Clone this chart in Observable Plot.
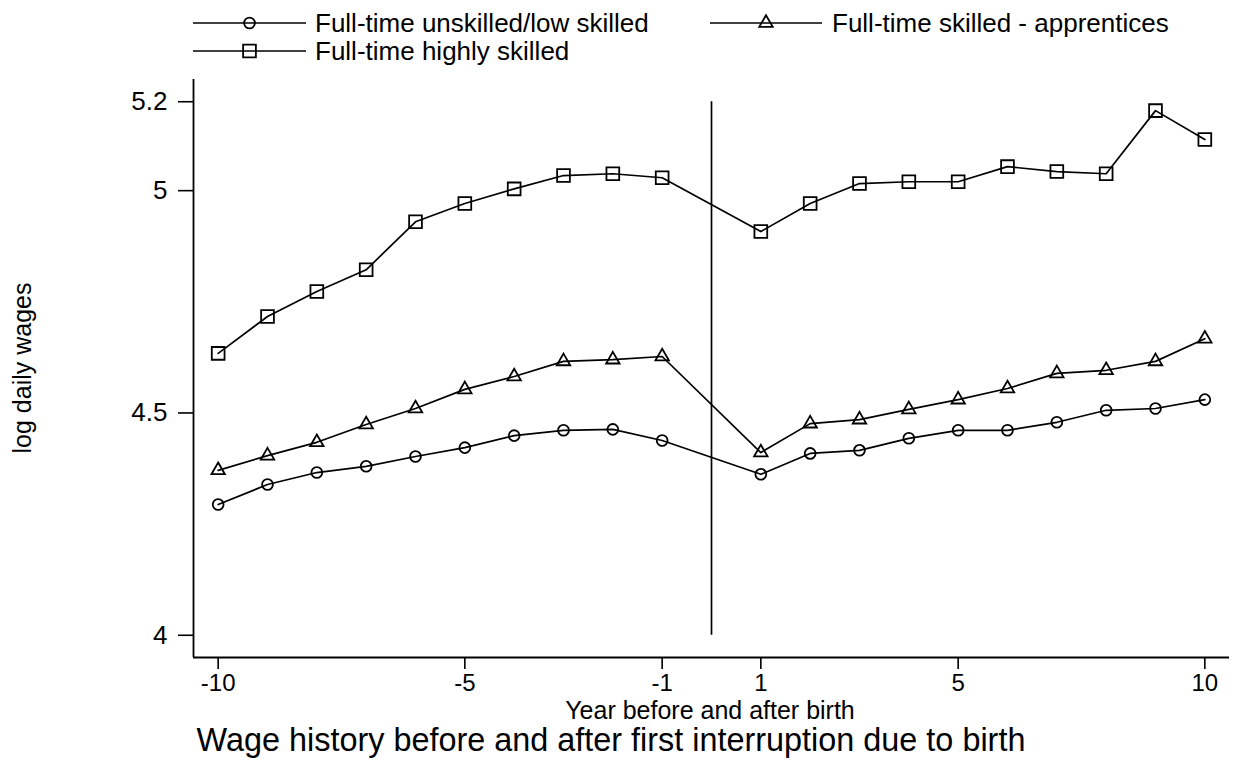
<!DOCTYPE html>
<html>
<head>
<meta charset="utf-8">
<script src="https://cdn.jsdelivr.net/npm/d3@7"></script>
<script src="https://cdn.jsdelivr.net/npm/@observablehq/plot@0.6"></script>
<style>
  html, body { margin: 0; padding: 0; background: #fff; }
  #wrap { position: relative; width: 1241px; height: 765px; font-family: "Liberation Sans", Arial, sans-serif; color: #000; overflow: hidden; }
  #wrap svg.plot { position: absolute; left: 0; top: 0; }
  .ov { position: absolute; white-space: nowrap; line-height: 0.9; }
  .leg { position: absolute; display: flex; align-items: center; font-size: 26px; white-space: nowrap; line-height: 0.95; }
  .leg svg { display: block; }
</style>
</head>
<body>
<div id="wrap"></div>
<script>
// ---- data ----
const years = [-10, -9, -8, -7, -6, -5, -4, -3, -2, -1, 1, 2, 3, 4, 5, 6, 7, 8, 9, 10];
const seriesNames = ["Full-time unskilled/low skilled", "Full-time skilled - apprentices", "Full-time highly skilled"];
const lowSkilled = [4.294, 4.339, 4.366, 4.380, 4.402, 4.422, 4.449, 4.461, 4.463, 4.438,
                    4.362, 4.409, 4.416, 4.443, 4.461, 4.461, 4.479, 4.506, 4.510, 4.530];
const apprentices = [4.371, 4.404, 4.434, 4.474, 4.510, 4.553, 4.582, 4.616, 4.620, 4.627,
                     4.411, 4.476, 4.485, 4.508, 4.530, 4.555, 4.589, 4.596, 4.616, 4.667];
const highSkilled = [4.634, 4.717, 4.773, 4.822, 4.930, 4.971, 5.004, 5.034, 5.038, 5.029,
                     4.908, 4.971, 5.016, 5.020, 5.020, 5.054, 5.043, 5.038, 5.180, 5.115];
const xTicks = [-10, -5, -1, 1, 5, 10];
const yTicks = [4, 4.5, 5, 5.2];
const xDomain = [-10.5, 10.5];
const yDomain = [3.95, 5.25];
const birthLine = [{x: 0, y1: 4, y2: 5.2}];
const symbols = ["circle", "triangle", "square"];
const radii = [5.4, 5, 7.2];
const titleText = "Wage history before and after first interruption due to birth";
const xLabel = "Year before and after birth";
const yLabel = "log daily wages";

// ---- table ----
const allSeries = [lowSkilled, apprentices, highSkilled];
const rows = [];
allSeries.forEach((vals, i) => vals.forEach((v, j) => rows.push({series: seriesNames[i], year: years[j], value: v, k: i})));

const font = "Liberation Sans, Arial, sans-serif";
const chart = Plot.plot({
  width: 1241,
  height: 765,
  marginLeft: 193,
  marginRight: 12,
  marginTop: 79,
  marginBottom: 108,
  style: {fontFamily: font, background: "transparent"},
  x: {domain: xDomain},
  y: {domain: yDomain},
  marks: [
    Plot.ruleX([xDomain[0]], {stroke: "#000", strokeWidth: 1.8}),
    Plot.ruleY([yDomain[0]], {stroke: "#000", strokeWidth: 1.8}),
    Plot.axisY({ticks: yTicks, tickSize: 15, tickPadding: 11, fontSize: 26, tickFormat: d => String(d), label: null, strokeWidth: 1.6}),
    Plot.axisX({ticks: xTicks, tickSize: 12, tickPadding: 4, fontSize: 24, tickFormat: d => String(d), label: null, strokeWidth: 1.6}),
    Plot.ruleX(birthLine, {x: "x", y1: "y1", y2: "y2", stroke: "#000", strokeWidth: 1.7}),
    Plot.line(rows, {x: "year", y: "value", z: "series", stroke: "#000", strokeWidth: 1.7}),
    ...symbols.map((s, i) => Plot.dot(rows.filter(r => r.k === i), {x: "year", y: "value", symbol: () => s, r: radii[i], stroke: "#000", strokeWidth: 1.8, fill: "none"}))
  ]
});
chart.classList.add("plot");
const wrap = document.getElementById("wrap");
wrap.appendChild(chart);

// ---- overlay texts ----
function addText(txt, css) {
  const d = document.createElement("div");
  d.className = "ov";
  d.textContent = txt;
  Object.assign(d.style, css);
  wrap.appendChild(d);
  return d;
}
addText(xLabel, {left: "710px", top: "699px", fontSize: "25px", transform: "translateX(-50%)"});
addText(titleText, {left: "611px", top: "726px", fontSize: "32.4px", transform: "translateX(-50%)"});
addText(yLabel, {left: "22px", top: "368px", fontSize: "25px", transform: "translate(-50%, -50%) rotate(-90deg)"});

// ---- legend ----
const legendPos = [{left: 193, top: 23}, {left: 710, top: 23}, {left: 193, top: 51}];
const legendW = [113, 112, 113];
const legendGap = [9, 10, 9];
seriesNames.forEach((name, i) => {
  const item = document.createElement("div");
  item.className = "leg";
  item.style.left = legendPos[i].left + "px";
  item.style.top = (legendPos[i].top - 13) + "px";
  item.style.height = "26px";
  const w = legendW[i];
  const symType = d3["symbol" + symbols[i][0].toUpperCase() + symbols[i].slice(1)];
  const sym = d3.symbol(symType, Math.PI * radii[i] * radii[i])();
  item.innerHTML = `<svg width="${w}" height="26" style="margin-right:${legendGap[i]}px"><line x1="0" x2="${w}" y1="13" y2="13" stroke="#000" stroke-width="1.7"/><path d="${sym}" transform="translate(${w/2},13)" fill="none" stroke="#000" stroke-width="1.8"/></svg>`;
  const span = document.createElement("span");
  span.textContent = name;
  item.appendChild(span);
  wrap.appendChild(item);
});
</script>
</body>
</html>
